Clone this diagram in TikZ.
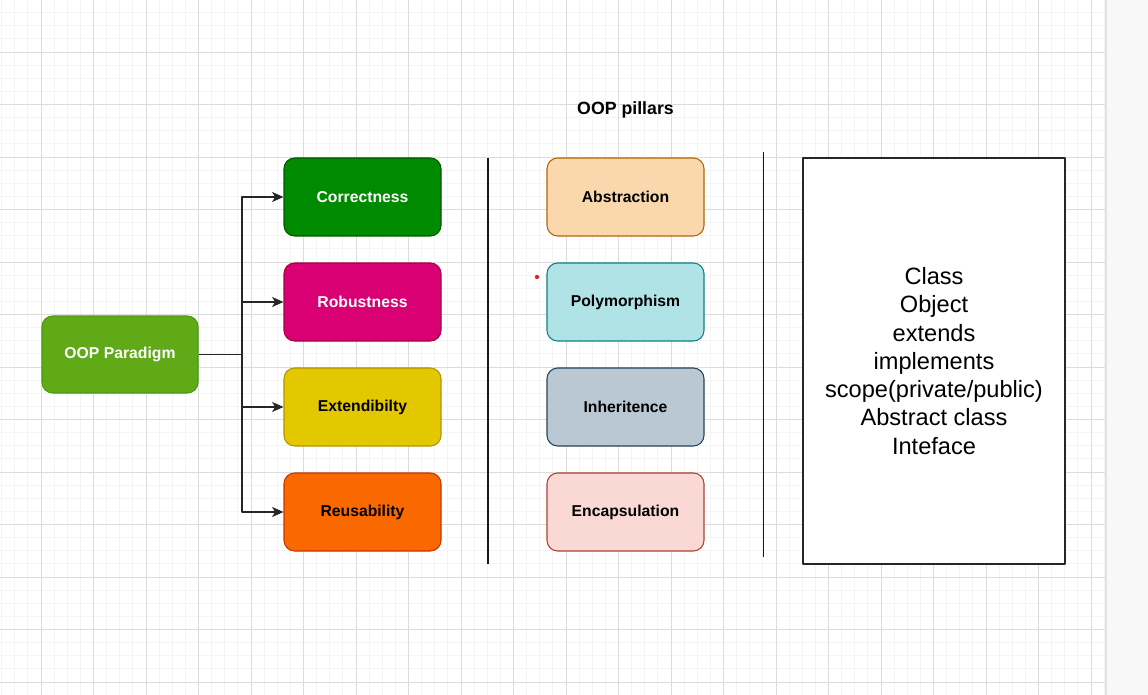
\documentclass[tikz,border=0pt]{standalone}
\usepackage{fontspec}
\setmainfont{Liberation Sans}
\usetikzlibrary{arrows.meta}
\definecolor{gridminor}{HTML}{F4F4F4}
\definecolor{gridmajor}{HTML}{DCDCDC}
\definecolor{panelfill}{HTML}{F8F8F8}
\definecolor{panelline}{HTML}{E2E2E2}
\definecolor{paraFill}{HTML}{60A917}\definecolor{paraLine}{HTML}{4D9A10}
\definecolor{corFill}{HTML}{008A00}\definecolor{corLine}{HTML}{005700}
\definecolor{robFill}{HTML}{D80073}\definecolor{robLine}{HTML}{A50040}
\definecolor{extFill}{HTML}{E3C800}\definecolor{extLine}{HTML}{B09500}
\definecolor{reuFill}{HTML}{FA6800}\definecolor{reuLine}{HTML}{C73500}
\definecolor{absFill}{HTML}{FAD7AC}\definecolor{absLine}{HTML}{B46504}
\definecolor{polFill}{HTML}{B0E3E6}\definecolor{polLine}{HTML}{0E8088}
\definecolor{inhFill}{HTML}{BAC8D3}\definecolor{inhLine}{HTML}{23445D}
\definecolor{encFill}{HTML}{FAD9D5}\definecolor{encLine}{HTML}{AE4132}
\definecolor{dotred}{HTML}{E02424}
\begin{document}
\begin{tikzpicture}[x=0.75pt, y=-0.75pt, line join=round,
  font=\bfseries\fontsize{11.8}{14}\selectfont,
  >={Stealth[length=8.5pt,width=7.5pt,inset=2.2pt]},
  box/.style={draw, rounded corners=8pt, line width=0.8pt, inner sep=0pt,
    minimum width=117.75pt, minimum height=58.5pt},
  wire/.style={line width=1pt, black!85},
  sep/.style={line width=1.1pt, black!90}]
\useasboundingbox (0,0) rectangle (1148,695);
% background grid
\fill[white] (0,0) rectangle (1105,695);
\foreach \i in {0,...,84}
  \draw[gridminor, line width=0.6pt] ({1.625+13.125*\i},0) -- ({1.625+13.125*\i},695);
\foreach \i in {0,...,52}
  \draw[gridminor, line width=0.6pt] (0,{12.625+13.125*\i}) -- (1105,{12.625+13.125*\i});
\foreach \k in {0,...,20}
  \draw[gridmajor, line width=0.7pt] ({41+52.5*\k},0) -- ({41+52.5*\k},695);
\foreach \k in {0,...,12}
  \draw[gridmajor, line width=0.7pt] (0,{52+52.5*\k}) -- (1105,{52+52.5*\k});
\fill[panelfill] (1106,0) rectangle (1148,695);
\draw[panelline, line width=1.2pt] (1106,0) -- (1106,695);

% paradigm and qualities
\node[box, fill=paraFill, draw=paraLine, text=white, minimum width=117pt, minimum height=57.75pt] (par) at (120,354.5) {OOP Paradigm};
\node[box, fill=corFill, draw=corLine, text=white] (cor) at (362.5,197) {Correctness};
\node[box, fill=robFill, draw=robLine, text=white] (rob) at (362.5,302) {Robustness};
\node[box, fill=extFill, draw=extLine] (ext) at (362.5,407) {Extendibilty};
\node[box, fill=reuFill, draw=reuLine] (reu) at (362.5,512) {Reusability};
\coordinate (fork) at (242,354.5);
\draw[wire] (par.east) -- (fork);
\foreach \n in {cor,rob,ext,reu}
  \draw[wire,->] (fork) |- (\n.west);

% pillars
\node[font=\bfseries\fontsize{13.3}{16}\selectfont] (title) at (625.5,110) {OOP pillars};
\node[box, fill=absFill, draw=absLine] (abs) at (625.5,197) {Abstraction};
\node[box, fill=polFill, draw=polLine] (pol) at (625.5,302) {Polymorphism};
\node[box, fill=inhFill, draw=inhLine] (inh) at (625.5,407) {Inheritence};
\node[box, fill=encFill, draw=encLine] (enc) at (625.5,512) {Encapsulation};
\fill[dotred] (537,277) circle (1.6pt);

% separators
\coordinate (s1t) at (488,158);
\coordinate (s1b) at (488,564);
\coordinate (s2t) at (763.5,152);
\coordinate (s2b) at (763.5,557);
\draw[sep] (s1t) -- (s1b);
\draw[sep] (s2t) -- (s2b);

% keywords
\node[draw, line width=1.1pt, black!85, text=black, fill=white, align=center,
  minimum width=196.5pt, minimum height=304.5pt,
  font=\fontsize{17.7}{21.2}\selectfont] (kw) at (934,361)
  {Class\\Object\\extends\\implements\\scope(private/public)\\Abstract class\\Inteface};
\end{tikzpicture}
\end{document}
